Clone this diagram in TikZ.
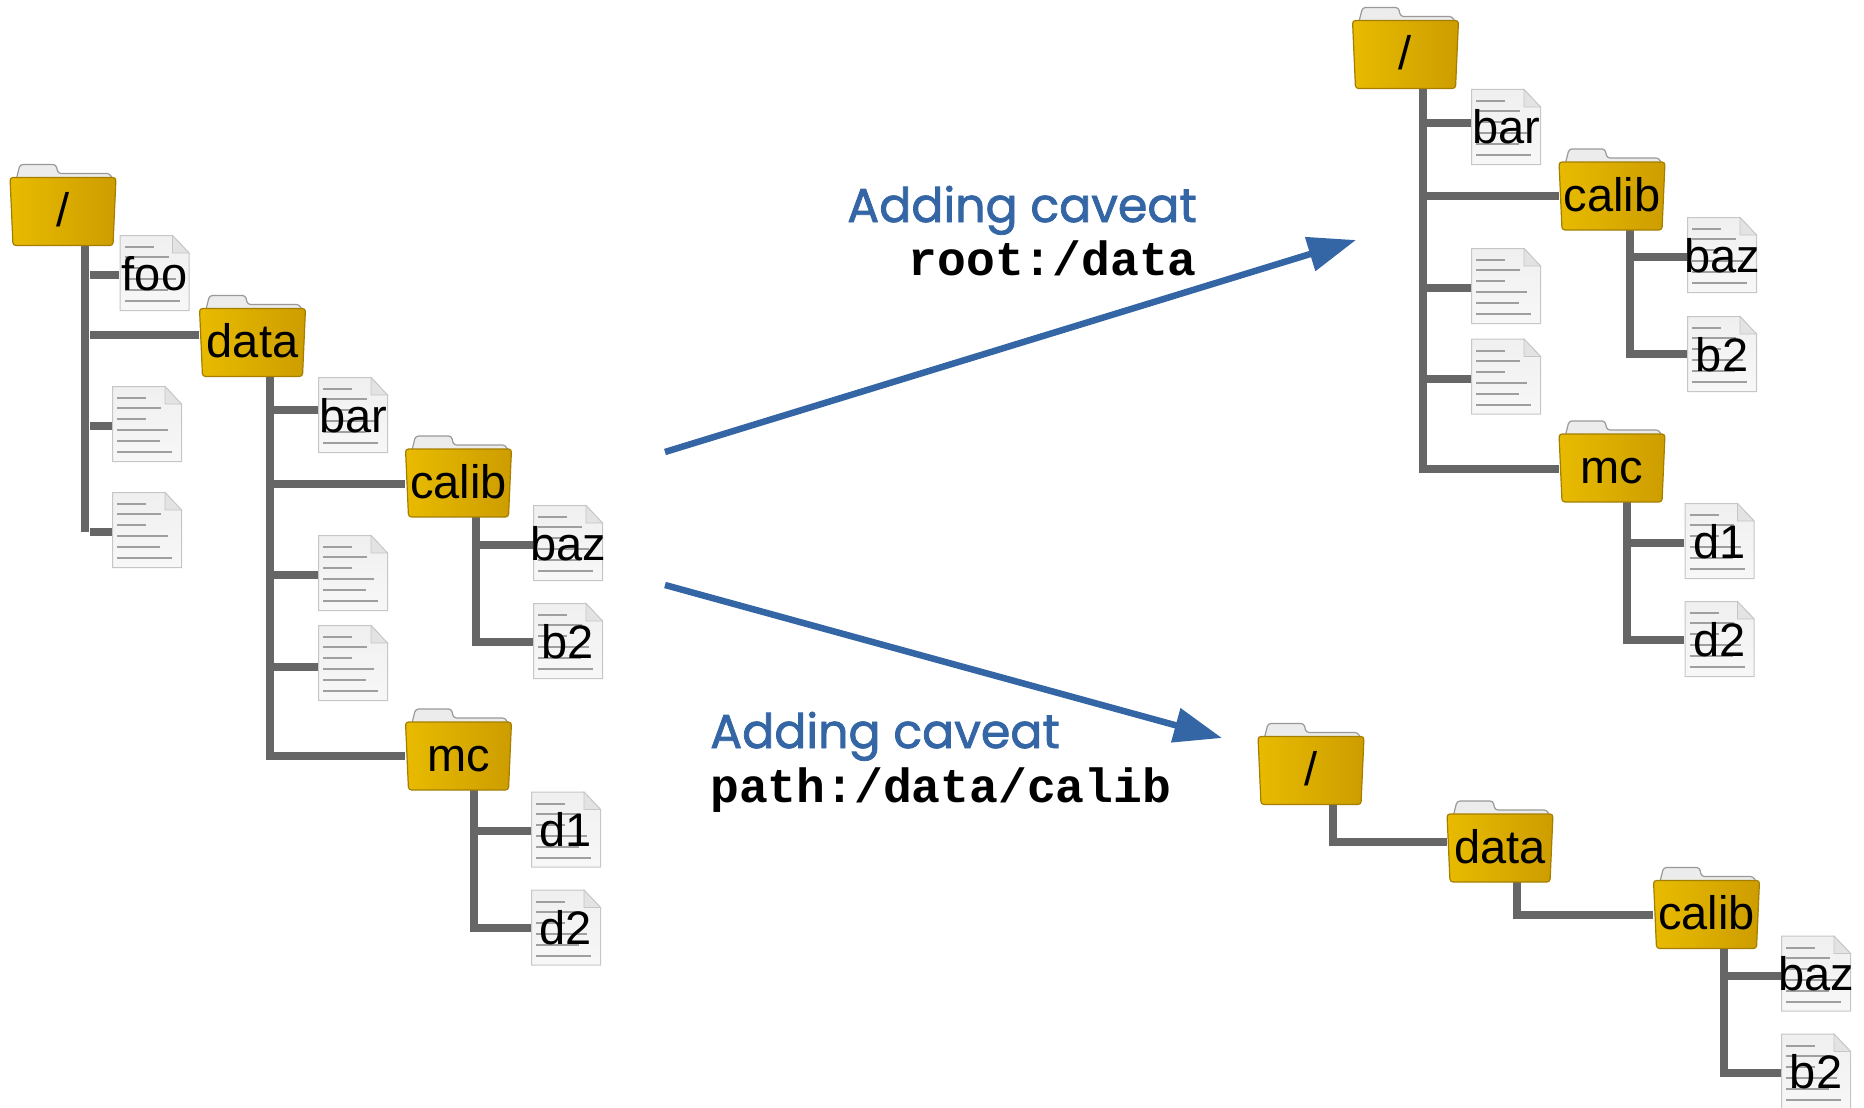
\documentclass[tikz,border=0pt]{standalone}
\usepackage{fontspec}
\setmainfont{Liberation Sans}
\newfontfamily\capfont{Poppins}[FakeBold=1.6]
\newfontfamily\pathfont{Liberation Mono}[BoldFont={Liberation Mono Bold}]
\usetikzlibrary{arrows.meta}
\pgfdeclarelayer{background}
\pgfsetlayers{background,main}
\definecolor{connc}{HTML}{666666}
\definecolor{arrowc}{HTML}{3465A4}
\definecolor{foldL}{HTML}{E8BB00}
\definecolor{foldR}{HTML}{CD9D00}
\tikzset{
  conn/.style={draw=connc,line width=8pt,line join=miter},
  bigarrow/.style={draw=arrowc,line width=6.5pt,-{Triangle[length=48pt,width=34pt]}},
  folderbody/.style={draw=foldR!80!black,line width=1.2pt,rounded corners=3pt,left color=foldL,right color=foldR},
  foldertab/.style={draw=gray!80,line width=1.2pt,fill=gray!15,rounded corners=3pt},
  filebody/.style={draw=gray!45,line width=1pt,top color=gray!12,bottom color=gray!6},
  filefold/.style={draw=gray!45,line width=.8pt,fill=gray!22},
  fileline/.style={draw=gray!75,line width=2pt},
  foldernode/.style={minimum width=106pt,minimum height=68pt,inner sep=0pt,font=\fontsize{47}{47}\selectfont},
  filenodeS/.style={minimum width=70pt,minimum height=76pt,inner sep=0pt,font=\fontsize{47}{47}\selectfont},
  capnode/.style={anchor=base east,inner sep=0pt,text=arrowc,font=\capfont\fontsize{47.5}{47.5}\selectfont},
  capnodeL/.style={anchor=base west,inner sep=0pt,text=arrowc,font=\capfont\fontsize{47.5}{47.5}\selectfont},
  pathnode/.style={anchor=base east,inner sep=0pt,font=\pathfont\bfseries\fontsize{48}{48}\selectfont},
  pathnodeL/.style={anchor=base west,inner sep=0pt,font=\pathfont\bfseries\fontsize{48}{48}\selectfont},
}
\newcommand{\lbl}[2]{\raisebox{-#1pt}[0pt][0pt]{\makebox[0pt]{#2}}}
\newcommand{\folderitem}[4]{%
  \begin{scope}[shift={(#2,#3)}]
    \path[foldertab] (-47,-30) -- (-43,-46) -- (-7,-46) -- (-5,-37) -- (47,-37) -- (50,-30) -- cycle;
    \path[folderbody] (-53,-33) -- (53,-33) -- (50,35) -- (-50,35) -- cycle;
  \end{scope}
  \node[foldernode] (#1) at (#2,#3) {\lbl{16}{#4}};}
\newcommand{\fileitem}[4]{%
  \begin{scope}[shift={(#2,#3)}]
    \path[filebody] (-34.5,-37.5) -- (18,-37.5) -- (34.5,-20) -- (34.5,37.5) -- (-34.5,37.5) -- cycle;
    \path[filefold] (18,-37.5) -- (34.5,-20) -- (18,-20) -- cycle;
    \foreach \yy/\xx in {-26/-1,-16/14,-5/-1,6/21,17/13,28/25}
      \draw[fileline] (-30,\yy) -- (\xx,\yy);
  \end{scope}
  \node[filenodeS] (#1) at (#2,#3) {\lbl{17}{#4}};}
\newcommand{\branch}[4]{%
  \coordinate (#1) at (#2,#3);
  \draw[conn] (#1) -- (#1 -| #4.west);}
\begin{document}
\begin{tikzpicture}[x=1pt,y=-1pt]
\useasboundingbox (0,0) rectangle (1864,1108);
% left tree
\folderitem{lroot}{63}{210.5}{/}
\fileitem{lfoo}{154.5}{273}{foo}
\folderitem{ldata}{252.5}{341.5}{data}
\fileitem{lfa}{147}{424}{}
\fileitem{lfb}{147}{530}{}
\fileitem{lbar}{353}{415}{bar}
\folderitem{lcalib}{458.5}{482}{calib}
\fileitem{lfc}{353}{573}{}
\fileitem{lfd}{353}{663}{}
\folderitem{lmc}{458.5}{755}{mc}
\fileitem{lbaz}{568}{543}{baz}
\fileitem{lbtwo}{568}{641}{b2}
\fileitem{ldone}{566}{829.5}{d1}
\fileitem{ldtwo}{566}{927.5}{d2}
% top right tree
\folderitem{rroot}{1405.5}{53.5}{/}
\fileitem{rbar}{1506}{127}{bar}
\folderitem{rcalib}{1612}{195}{calib}
\fileitem{rfa}{1506}{286}{}
\fileitem{rfb}{1506}{376.5}{}
\folderitem{rmc}{1612}{467}{mc}
\fileitem{rbaz}{1722}{255}{baz}
\fileitem{rbtwo}{1722}{354}{b2}
\fileitem{rdone}{1719.5}{541}{d1}
\fileitem{rdtwo}{1719.5}{639}{d2}
% bottom tree
\folderitem{broot}{1311}{769.5}{/}
\folderitem{bdata}{1500}{847}{data}
\folderitem{bcalib}{1706.5}{913.5}{calib}
\fileitem{bbaz}{1816}{973.5}{baz}
\fileitem{bbtwo}{1816}{1071.5}{b2}
% captions
\node[capnode] (capa) at (1197,222) {Adding caveat};
\node[pathnode] (patha) at (1197,275) {root:/data};
\node[capnodeL] (capb) at (710,748) {Adding caveat};
\node[pathnodeL] (pathb) at (710,802) {path:/data/calib};
% arrows
\coordinate (aone) at (665,452);
\coordinate (aonetip) at (1356,240);
\coordinate (atwo) at (665,585);
\coordinate (atwotip) at (1222,738);
\draw[bigarrow] (aone) -- (aonetip);
\draw[bigarrow] (atwo) -- (atwotip);
% connectors
\begin{pgfonlayer}{background}
  \coordinate (ta) at (85,532);
  \draw[conn] (ta |- lroot.south) -- (ta);
  \branch{la}{90}{275}{lfoo}
  \branch{lb}{90}{335}{ldata}
  \branch{lc}{90}{425.5}{lfa}
  \branch{ld}{90}{532}{lfb}
  \coordinate (tb) at (270,756);
  \draw[conn] (tb |- ldata.south) -- (tb) -- (tb -| lmc.west);
  \branch{le}{270}{410}{lbar}
  \branch{lf}{270}{484}{lcalib}
  \branch{lg}{270}{575}{lfc}
  \branch{lh}{270}{667}{lfd}
  \coordinate (tc) at (475.5,642);
  \draw[conn] (tc |- lcalib.south) -- (tc) -- (tc -| lbtwo.west);
  \branch{li}{475.5}{545}{lbaz}
  \coordinate (td) at (474,928);
  \draw[conn] (td |- lmc.south) -- (td) -- (td -| ldtwo.west);
  \branch{lj}{474}{831}{ldone}
  \coordinate (te) at (1423,469);
  \draw[conn] (te |- rroot.south) -- (te) -- (te -| rmc.west);
  \branch{ra}{1423}{123}{rbar}
  \branch{rb}{1423}{196}{rcalib}
  \branch{rc}{1423}{288}{rfa}
  \branch{rd}{1423}{378.5}{rfb}
  \coordinate (tf) at (1630,354);
  \draw[conn] (tf |- rcalib.south) -- (tf) -- (tf -| rbtwo.west);
  \branch{re}{1630}{257}{rbaz}
  \coordinate (tg) at (1627,640);
  \draw[conn] (tg |- rmc.south) -- (tg) -- (tg -| rdtwo.west);
  \branch{rf}{1627}{543}{rdone}
  \coordinate (th) at (1333,842);
  \draw[conn] (th |- broot.south) -- (th) -- (th -| bdata.west);
  \coordinate (ti) at (1517,915);
  \draw[conn] (ti |- bdata.south) -- (ti) -- (ti -| bcalib.west);
  \coordinate (tj) at (1724,1073);
  \draw[conn] (tj |- bcalib.south) -- (tj) -- (tj -| bbtwo.west);
  \branch{ba}{1724}{976}{bbaz}
\end{pgfonlayer}
\end{tikzpicture}
\end{document}
